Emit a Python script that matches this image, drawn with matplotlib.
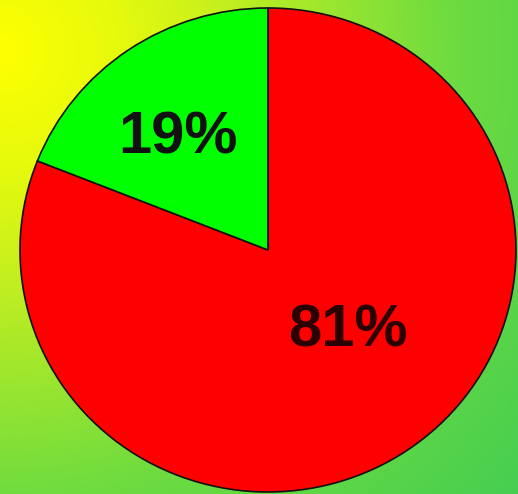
import numpy as np
import matplotlib.pyplot as plt

# data
labels = ['81%', '19%']
values = [81, 19]
colors = ['#ff0000', '#00ff00']

W, H = 518, 494
fig = plt.figure(figsize=(W / 100, H / 100), dpi=100)
ax = fig.add_axes([0, 0, 1, 1])

# radial yellow -> green background from the top-left corner
yy, xx = np.mgrid[0:H, 0:W]
d = np.hypot(xx - 0, yy - 50)
stops = [0, 120, 220, 450, 720]
r = np.interp(d, stops, [1.00, 0.90, 0.78, 0.43, 0.25])
g = np.interp(d, stops, [1.00, 0.98, 0.94, 0.86, 0.80])
b = np.interp(d, stops, [0.00, 0.05, 0.12, 0.25, 0.33])
bg = np.dstack([r, g, b])

# pie is slightly squashed vertically: scale y units
sy = 248 / 242.0
Hd = H * sy
ax.imshow(bg, extent=[0, W, 0, Hd], origin='upper', zorder=0)

wedges, _ = ax.pie(values, colors=colors, startangle=90, counterclock=False,
                   center=(268, (H - 250) * sy), radius=248, frame=True,
                   wedgeprops=dict(edgecolor='#111111', linewidth=1.2))
for w in wedges:
    w.set_zorder(2)
ax.set_xlim(0, W)
ax.set_ylim(0, Hd)
ax.set_aspect('auto')
ax.axis('off')

ax.text(178, (H - 138) * sy, labels[1], fontsize=43, fontweight='bold', family='Liberation Sans',
        color='#111111', ha='center', va='center', zorder=3)
ax.text(348, (H - 331) * sy, labels[0], fontsize=43, fontweight='bold', family='Liberation Sans',
        color='#2a0000', ha='center', va='center', zorder=3)

fig.savefig('out.png', dpi=100)
